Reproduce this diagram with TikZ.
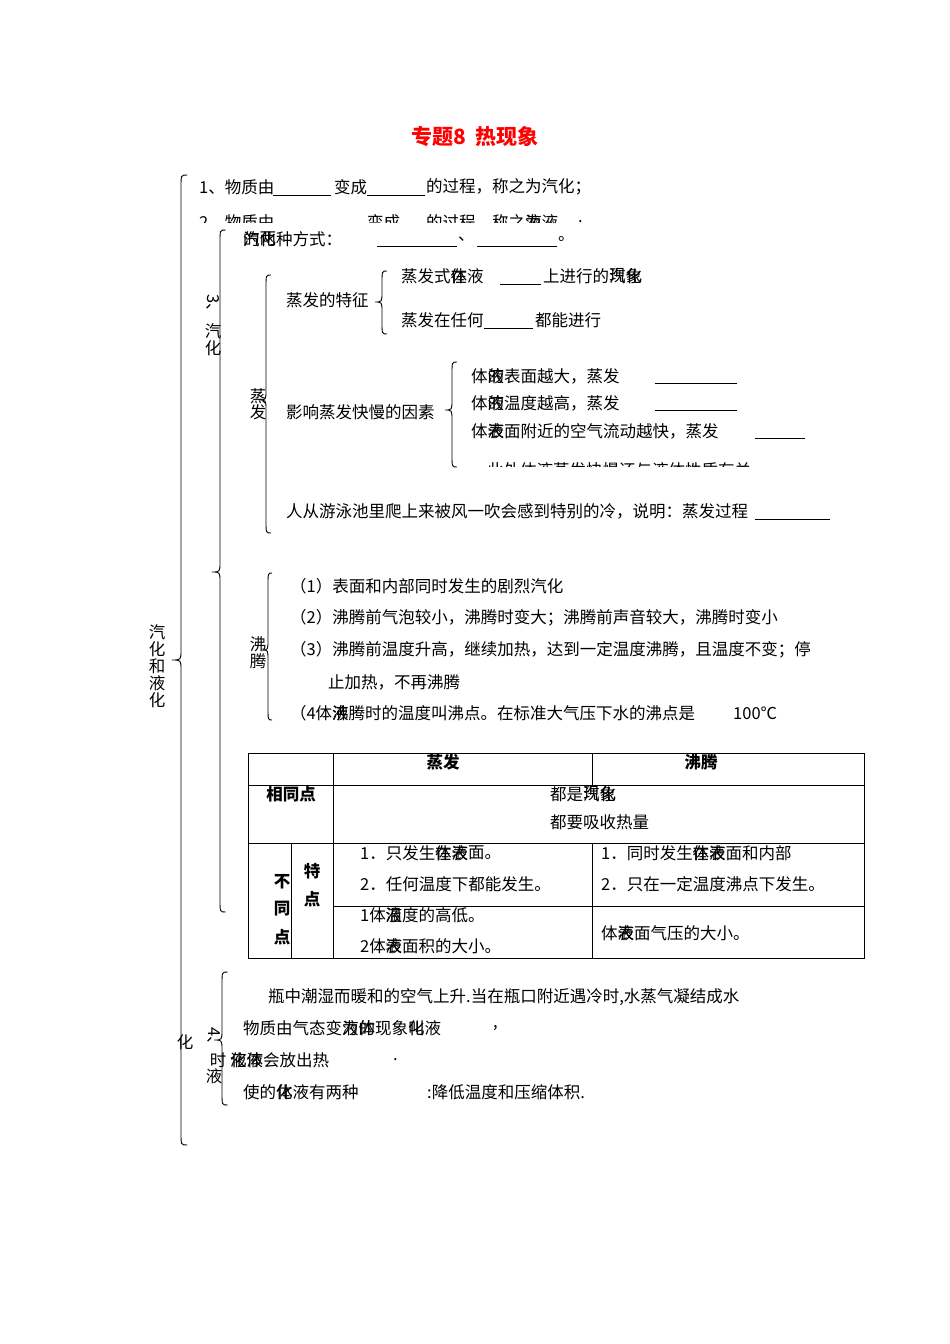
\documentclass[tikz,border=0pt]{standalone}
\usepackage{fontspec}
\setmainfont{Noto Sans CJK SC}
\newcommand\mybrace[5]{% x, ytop, ytip, ybot, depth
  \draw[br] ({#1+#5*0.7},#2) .. controls (#1,#2) .. (#1,{#2+12}) -- (#1,{#3-10})
    .. controls (#1,#3) .. ({#1-#5},#3) .. controls (#1,#3) .. (#1,{#3+10})
    -- (#1,{#4-12}) .. controls (#1,#4) .. ({#1+#5*0.7},#4);}
\newcommand\ov[5]{\node[txt] (#1a) at (#2,#3) {#4}; \node[txt] (#1b) at (#2,#3) {#5};}
\begin{document}
\begin{tikzpicture}[x=1pt,y=-1pt,
  txt/.style={anchor=west,inner sep=0pt,font=\fontsize{16.5}{17}\selectfont},
  ctr/.style={anchor=center,inner sep=0pt,font=\fontsize{16.5}{17}\selectfont},
  bld/.style={anchor=center,inner sep=0pt,font=\fontsize{16.5}{17}\selectfont\bfseries},
  ln/.style={line width=0.6pt},
  br/.style={line width=0.9pt},
  tb/.style={line width=0.7pt}]
\useasboundingbox (0,0) rectangle (950,1344);
\fill[white] (0,0) rectangle (950,1344);

% title
\node[inner sep=0pt,text=red,font=\fontsize{21}{21}\selectfont\bfseries] (title) at (475,137) {专题8\ \ 热现象};

% braces
\mybrace{181}{175}{660}{1145}{9}
\mybrace{220}{230}{572}{912}{8}
\mybrace{266}{275}{400}{533}{7}
\mybrace{382}{271}{302}{334}{7}
\mybrace{452}{362}{410}{467}{7}
\mybrace{268}{573}{650}{720}{6}
\mybrace{222}{972}{1040}{1105}{8}

% vertical labels
\node[ctr] (v1) at (157,632) {汽};
\node[ctr] (v2) at (157,649) {化};
\node[ctr] (v3) at (157,666) {和};
\node[ctr] (v4) at (157,683) {液};
\node[ctr] (v5) at (157,700) {化};
\node[ctr,rotate=-90] (s3) at (213,307) {3、};
\node[ctr] (s3a) at (213,331) {汽};
\node[ctr] (s3b) at (213,348) {化};
\node[ctr] (zf1) at (258,396) {蒸};
\node[ctr] (zf2) at (258,412) {发};
\node[ctr] (ft1) at (258,644) {沸};
\node[ctr] (ft2) at (258,661) {腾};
\node[ctr] (h4) at (185,1042) {化};
\node[ctr,rotate=-90] (s4) at (214,1040) {4、};
\node[ctr] (h5) at (218,1060) {时};
\node[ctr] (h6) at (214,1076) {液};

% lines 1-3
\node[txt] (l1a) at (199,187) {1、物质由};
\draw[ln] (273,195) -- (331,195);
\node[txt] (l1b) at (334,187) {变成};
\draw[ln] (367,195) -- (425,195);
\node[txt] (l1c) at (426,187) {的过程，称之为汽化；};
\begin{scope}
\clip (190,200) rectangle (600,222);
\node[txt] (l2a) at (199,222) {2、物质由};
\node[txt] (l2b) at (367,222) {变成};
\node[txt] (l2c) at (426,222) {的过程，称之};
\ov{l2d}{525}{222}{为}{液}
\node[txt] (l2e) at (541.5,222) {液};
\node[txt] (l2f) at (578,222) {.};
\end{scope}
\ov{l3}{243}{239}{的}{汽}
\ov{l3x}{259.5}{239}{两}{化}
\node[txt] (l3b) at (276,239) {种方式：};
\draw[ln] (377,246) -- (457,246);
\node[txt] (l3c) at (458,239) {、};
\draw[ln] (477,246) -- (557,246);
\node[txt] (l3d) at (558,239) {。};

% evaporation features
\node[txt] (tz) at (286,300) {蒸发的特征};
\node[txt] (a1) at (401,276) {蒸发式};
\ov{a2}{450.5}{276}{在}{体}
\node[txt] (a3) at (467,276) {液};
\draw[ln] (500,284) -- (541,284);
\node[txt] (a4) at (543,276) {上进行的};
\ov{a5}{609}{276}{现}{汽}
\ov{a6}{625.5}{276}{象}{化}
\node[txt] (b1) at (401,320) {蒸发在任何};
\draw[ln] (484,328) -- (533,328);
\node[txt] (b2) at (535,320) {都能进行};

% factors
\node[txt] (yx) at (286,412) {影响蒸发快慢的因素};
\node[txt] (c1) at (471,376) {体};
\ov{c2}{487.5}{376}{液}{的}
\node[txt] (c3) at (504,376) {表面越大，蒸发};
\draw[ln] (655,383) -- (737,383);
\node[txt] (d1) at (471,403) {体};
\ov{d2}{487.5}{403}{液}{的}
\node[txt] (d3) at (504,403) {温度越高，蒸发};
\draw[ln] (655,410) -- (737,410);
\node[txt] (e1) at (471,431) {体};
\ov{e2}{487.5}{431}{液}{表}
\node[txt] (e3) at (504,431) {面附近的空气流动越快，蒸发};
\draw[ln] (755,438) -- (805,438);
\begin{scope}
\clip (460,455) rectangle (850,466);
\node[txt] (f1) at (487,470) {此外体液蒸发快慢还与液体性质有关};
\end{scope}
\node[txt] (g1) at (286,511) {人从游泳池里爬上来被风一吹会感到特别的冷，说明：蒸发过程};
\draw[ln] (755,519) -- (830,519);

% boiling
\node[txt] (p1) at (290,586) {（1）表面和内部同时发生的剧烈汽化};
\node[txt] (p2) at (290,618) {（2）沸腾前气泡较小，沸腾时变大；沸腾前声音较大，沸腾时变小};
\node[txt] (p3) at (290,650) {（3）沸腾前温度升高，继续加热，达到一定温度沸腾，且温度不变；停};
\node[txt] (p3b) at (328,682) {止加热，不再沸腾};
\node[txt] (p4a) at (290,713) {（4};
\node[txt] (p4b) at (315.5,713) {体};
\ov{p4c}{332}{713}{液}{沸}
\node[txt] (p4d) at (348.5,713) {腾时的温度叫沸点。在标准大气压下水的沸点是};
\node[txt] (p4e) at (733,713) {100℃};

% table
\draw[tb] (248,753) rectangle (864,958);
\draw[tb] (248,785) -- (864,785);
\draw[tb] (248,843) -- (864,843);
\draw[tb] (333,906) -- (864,906);
\draw[tb] (333,753) -- (333,958);
\draw[tb] (592,753) -- (592,785);
\draw[tb] (592,843) -- (592,958);
\draw[tb] (291,843) -- (291,958);
\node[bld] (th1) at (443,762) {蒸发};
\node[bld] (th2) at (701,762) {沸腾};
\node[bld] (tr1) at (291,794) {相同点};
\node[txt] (s1) at (550,794) {都是};
\ov{s2}{583}{794}{现}{汽}
\ov{s2x}{599.5}{794}{象}{化}
\node[txt] (s3t) at (550,822) {都要吸收热量};
\node[bld] (bt1) at (282,882) {不};
\node[bld] (bt2) at (282,909) {同};
\node[bld] (bt3) at (282,937) {点};
\node[bld] (td1) at (312,871) {特};
\node[bld] (td2) at (312,899) {点};
\node[txt] (m1) at (360,853) {1．只发生};
\ov{m2}{435}{853}{在}{体}
\ov{m3}{451.5}{853}{液}{表}
\node[txt] (m4) at (468,853) {面。};
\node[txt] (m5) at (360,884) {2．任何温度下都能发生。};
\node[txt] (n1) at (601,853) {1．同时发生};
\ov{n2}{692.5}{853}{在}{体}
\ov{n3}{709}{853}{液}{表}
\node[txt] (n4) at (725.5,853) {面和内部};
\node[txt] (n5) at (601,884) {2．只在一定温度沸点下发生。};
\node[txt] (q1) at (360,915) {1体};
\ov{q2}{385.5}{915}{液}{温}
\node[txt] (q3) at (402,915) {度的高低。};
\node[txt] (r1) at (360,946) {2体};
\ov{r2}{385.5}{946}{液}{表}
\node[txt] (r3) at (402,946) {面积的大小。};
\node[txt] (u1) at (601,933) {体};
\ov{u2}{617.5}{933}{液}{表}
\node[txt] (u3) at (634,933) {面气压的大小。};

% liquefaction
\node[txt] (w1) at (268,997) {瓶中潮湿而暖和的空气上升.当在瓶口附近遇冷时,水蒸气凝结成水};
\node[txt] (x1) at (243,1028) {物质由气态变};
\ov{x2}{342}{1028}{为}{液}
\ov{x3}{358.5}{1028}{的}{体}
\node[txt] (x4) at (375,1028) {现象};
\ov{x5}{408}{1028}{叫}{化}
\node[txt] (x6) at (424.5,1028) {液};
\node[txt] (x7) at (493,1028) {,};
\ov{y1}{230}{1060}{化}{液}
\ov{y2}{246.5}{1060}{液}{体}
\node[txt] (y3) at (263,1060) {会放出热};
\node[txt] (y4) at (393,1060) {.};
\node[txt] (z1) at (243,1092) {使的};
\ov{z2}{276}{1092}{化}{体}
\node[txt] (z3) at (292.5,1092) {液有两种};
\node[txt] (z4) at (427,1092) {:降低温度和压缩体积.};
\end{tikzpicture}
\end{document}
